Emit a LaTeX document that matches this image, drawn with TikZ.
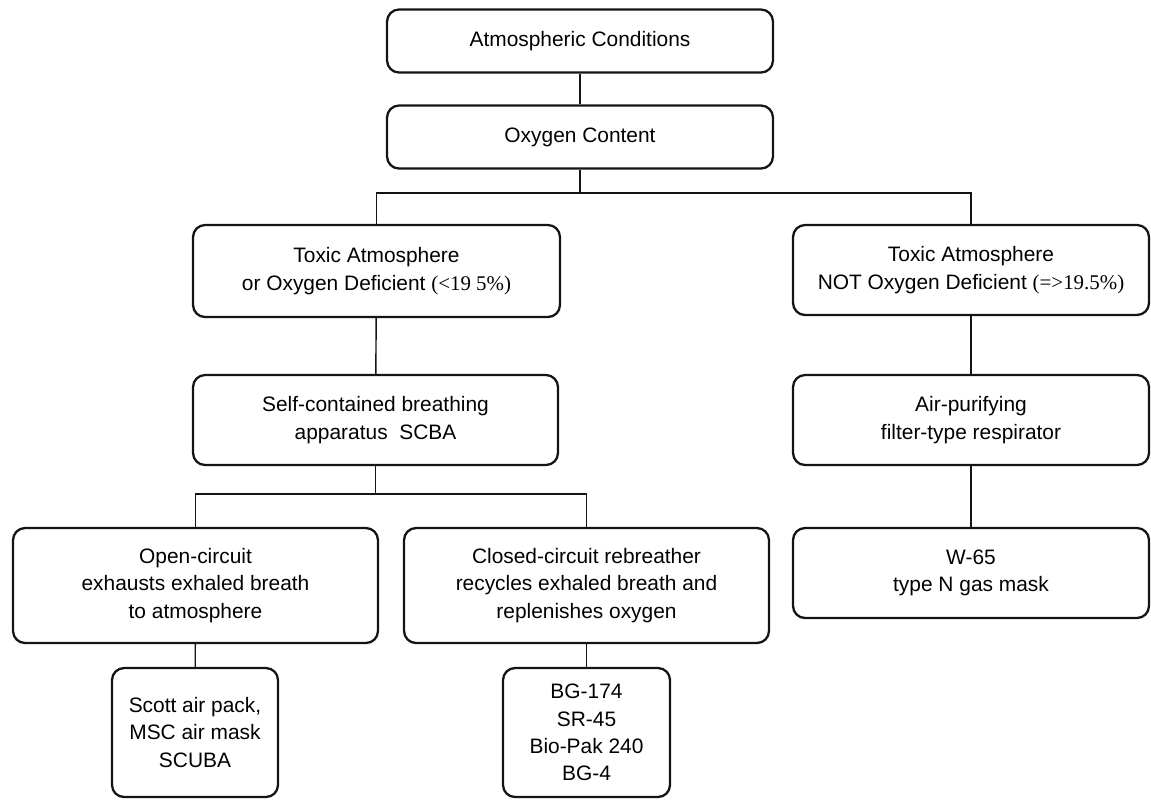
\documentclass[tikz,border=0pt]{standalone}
\usepackage{fontspec}
\setmainfont{Liberation Sans}
\newfontfamily\pctfont{Liberation Serif}
\usepackage{tikz}
\definecolor{ChartLine}{RGB}{20, 20, 20}

\begin{document}
\begin{tikzpicture}[x=0.02cm, y=-0.02cm,
    blockbox/.style={draw=ChartLine, line width=1.3pt, rounded corners=0.24cm,
        align=center, inner sep=0pt, font=\fontsize{11.9}{15.6}\selectfont},
    link/.style={draw=ChartLine, line width=0.8pt}]
    % Page frame
    \useasboundingbox (0,0) rectangle (1151,799);

    % Top of the chart
    \node[blockbox, minimum width=7.72cm, minimum height=1.26cm] (atmos) at (580,41) {Atmospheric Conditions};
    \node[blockbox, minimum width=7.72cm, minimum height=1.26cm] (oxygen) at (580,137) {Oxygen Content};

    % Toxic atmosphere branches
    \node[blockbox, minimum width=7.34cm, minimum height=1.84cm] (toxicdef) at (376.5,271) {Toxic Atmosphere\\or Oxygen Deficient {\pctfont(<19 5\%)}};
    \node[blockbox, minimum width=7.12cm, minimum height=1.8cm] (toxicok) at (971,270) {Toxic Atmosphere\\NOT Oxygen Deficient {\pctfont(=>19.5\%)}};

    % Respirator types
    \node[blockbox, minimum width=7.3cm, minimum height=1.8cm] (scba) at (375.5,420) {Self-contained breathing\\apparatus\ \ SCBA};
    \node[blockbox, minimum width=7.12cm, minimum height=1.8cm] (airpur) at (971,420) {Air-purifying\\filter-type respirator};

    % Circuit types
    \node[blockbox, minimum width=7.3cm, minimum height=2.3cm] (opencirc) at (195.5,585.5) {Open-circuit\\exhausts exhaled breath\\to atmosphere};
    \node[blockbox, minimum width=7.3cm, minimum height=2.3cm] (closedcirc) at (586.5,585.5) {Closed-circuit rebreather\\recycles exhaled breath and\\replenishes oxygen};
    \node[blockbox, minimum width=7.12cm, minimum height=1.8cm] (gasmask) at (971,573) {W-65\\type N gas mask};

    % Equipment examples
    \node[blockbox, minimum width=3.32cm, minimum height=2.58cm] (scott) at (195,732.5) {Scott air pack,\\MSC air mask\\SCUBA};
    \node[blockbox, minimum width=3.34cm, minimum height=2.58cm] (bgunits) at (586.5,732.5) {BG-174\\SR-45\\Bio-Pak 240\\BG-4};

    % Connectors
    \coordinate (split1) at (580,193);
    \coordinate (split2) at (375.5,494);
    \draw[link] (atmos) -- (oxygen);
    \draw[link] (oxygen) -- (split1);
    \draw[link] (toxicdef.north) |- (split1) -| (toxicok.north);
    \draw[link] (toxicdef) -- (scba);
    \draw[link] (toxicok) -- (airpur);
    \draw[link] (scba) -- (split2);
    \draw[link] (opencirc.north) |- (split2) -| (closedcirc.north);
    \draw[link] (airpur) -- (gasmask);
    \draw[link] (opencirc) -- (scott);
    \draw[link] (closedcirc) -- (bgunits);
\end{tikzpicture}
\end{document}
